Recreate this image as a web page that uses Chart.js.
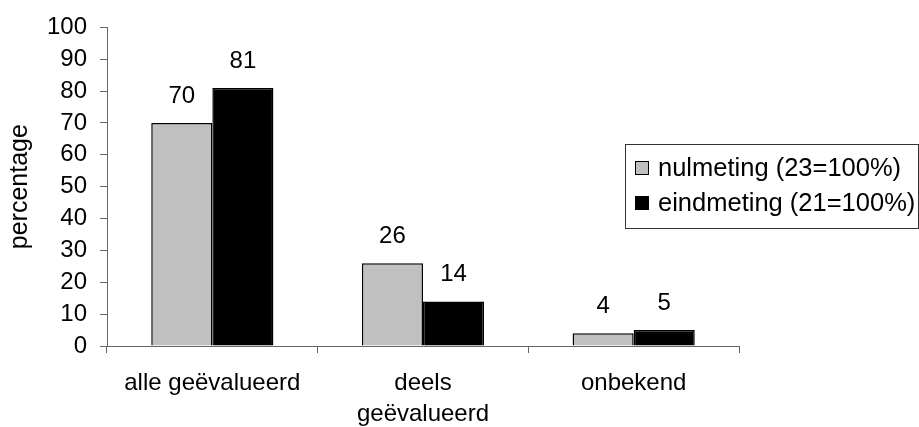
<!DOCTYPE html>
<html>
<head>
<meta charset="utf-8">
<script src="https://cdn.jsdelivr.net/npm/chart.js@4/dist/chart.umd.min.js"></script>
<style>
  html, body { margin: 0; padding: 0; background: #fff; }
  #wrap { width: 919px; height: 427px; }
</style>
</head>
<body>
<div id="wrap"><canvas id="chart" width="919" height="427"></canvas></div>
<script>
/* ================================
   Data
================================ */
const categories = ["alle geëvalueerd", ["deels", "geëvalueerd"], "onbekend"];
const seriesNames = ["nulmeting (23=100%)", "eindmeting (21=100%)"];
const nulmeting = [70, 26, 4];
const eindmeting = [81, 14, 5];
const yTicks = [0, 10, 20, 30, 40, 50, 60, 70, 80, 90, 100];
const seriesColors = ["#c0c0c0", "#000000"];

const FONT = "'Liberation Sans', Arial, sans-serif";

/* ================================
   Value labels above bars
================================ */
const valueLabels = {
  id: "valueLabels",
  afterDatasetsDraw(chart) {
    const ctx = chart.ctx;
    ctx.save();
    ctx.font = `24px ${FONT}`;
    ctx.fillStyle = "#000";
    ctx.textAlign = "center";
    ctx.textBaseline = "middle";
    chart.data.datasets.forEach((ds, i) => {
      chart.getDatasetMeta(i).data.forEach((bar, j) => {
        ctx.fillText(String(ds.data[j]), bar.x, bar.y - 27);
      });
    });
    ctx.restore();
  }
};

/* ================================
   Boxed legend (overlaps plot like the original)
================================ */
const boxLegend = {
  id: "boxLegend",
  afterDraw(chart, args, opts) {
    const ctx = chart.ctx;
    ctx.save();
    ctx.fillStyle = "#fff";
    ctx.fillRect(opts.left, opts.top, opts.width, opts.height);
    ctx.strokeStyle = "#333";
    ctx.lineWidth = 1;
    ctx.strokeRect(opts.left + 0.5, opts.top + 0.5, opts.width, opts.height);

    ctx.font = `25.5px ${FONT}`;
    ctx.textBaseline = "middle";
    ctx.textAlign = "left";
    chart.data.datasets.forEach((ds, i) => {
      const cy = opts.top + opts.firstRow + i * opts.rowGap;
      const bx = opts.left + opts.boxX;
      ctx.fillStyle = ds.backgroundColor;
      ctx.fillRect(bx, cy - opts.box / 2, opts.box, opts.box);
      ctx.strokeStyle = "#000";
      ctx.strokeRect(bx + 0.5, cy - opts.box / 2 + 0.5, opts.box - 1, opts.box - 1);
      ctx.fillStyle = "#000";
      ctx.fillText(ds.label, opts.left + opts.textX, cy + 1);
    });
    ctx.restore();
  }
};

/* ================================
   Chart
================================ */
new Chart(document.getElementById("chart"), {
  type: "bar",
  data: {
    labels: categories,
    datasets: [
      {
        label: seriesNames[0],
        data: nulmeting,
        backgroundColor: seriesColors[0],
        borderColor: "#000",
        borderWidth: 1.5,
        categoryPercentage: 0.58,
        barPercentage: 1
      },
      {
        label: seriesNames[1],
        data: eindmeting,
        backgroundColor: seriesColors[1],
        borderColor: "#000",
        borderWidth: 1.5,
        categoryPercentage: 0.58,
        barPercentage: 1
      }
    ]
  },
  options: {
    responsive: false,
    animation: false,
    devicePixelRatio: 1,
    layout: { padding: { top: 25, right: 180, left: 0, bottom: 0 } },
    plugins: {
      legend: { display: false },
      tooltip: { enabled: false },
      boxLegend: {
        left: 625, top: 144, width: 293, height: 84,
        box: 14, boxX: 10, textX: 33, firstRow: 24, rowGap: 35
      }
    },
    scales: {
      x: {
        offset: true,
        grid: {
          offset: true,
          drawOnChartArea: false,
          drawTicks: true,
          tickLength: 7,
          color: "#666"
        },
        border: { color: "#666", width: 1 },
        ticks: {
          color: "#000",
          padding: 15,
          font: { family: FONT, size: 24, lineHeight: 1.28 },
          maxRotation: 0,
          autoSkip: false
        },
        afterFit(s) { s.height = 81; }
      },
      y: {
        min: 0,
        max: 100,
        afterBuildTicks(s) { s.ticks = yTicks.map(v => ({ value: v })); },
        grid: {
          drawOnChartArea: false,
          drawTicks: true,
          tickLength: 7,
          color: "#666"
        },
        border: { color: "#666", width: 1 },
        ticks: {
          color: "#000",
          padding: 13,
          font: { family: FONT, size: 24 }
        },
        title: {
          display: true,
          text: "percentage",
          color: "#000",
          font: { family: FONT, size: 25 },
          padding: { top: 5, bottom: 0 }
        },
        afterFit(s) { s.width = 107; }
      }
    }
  },
  plugins: [valueLabels, boxLegend]
});
</script>
</body>
</html>
